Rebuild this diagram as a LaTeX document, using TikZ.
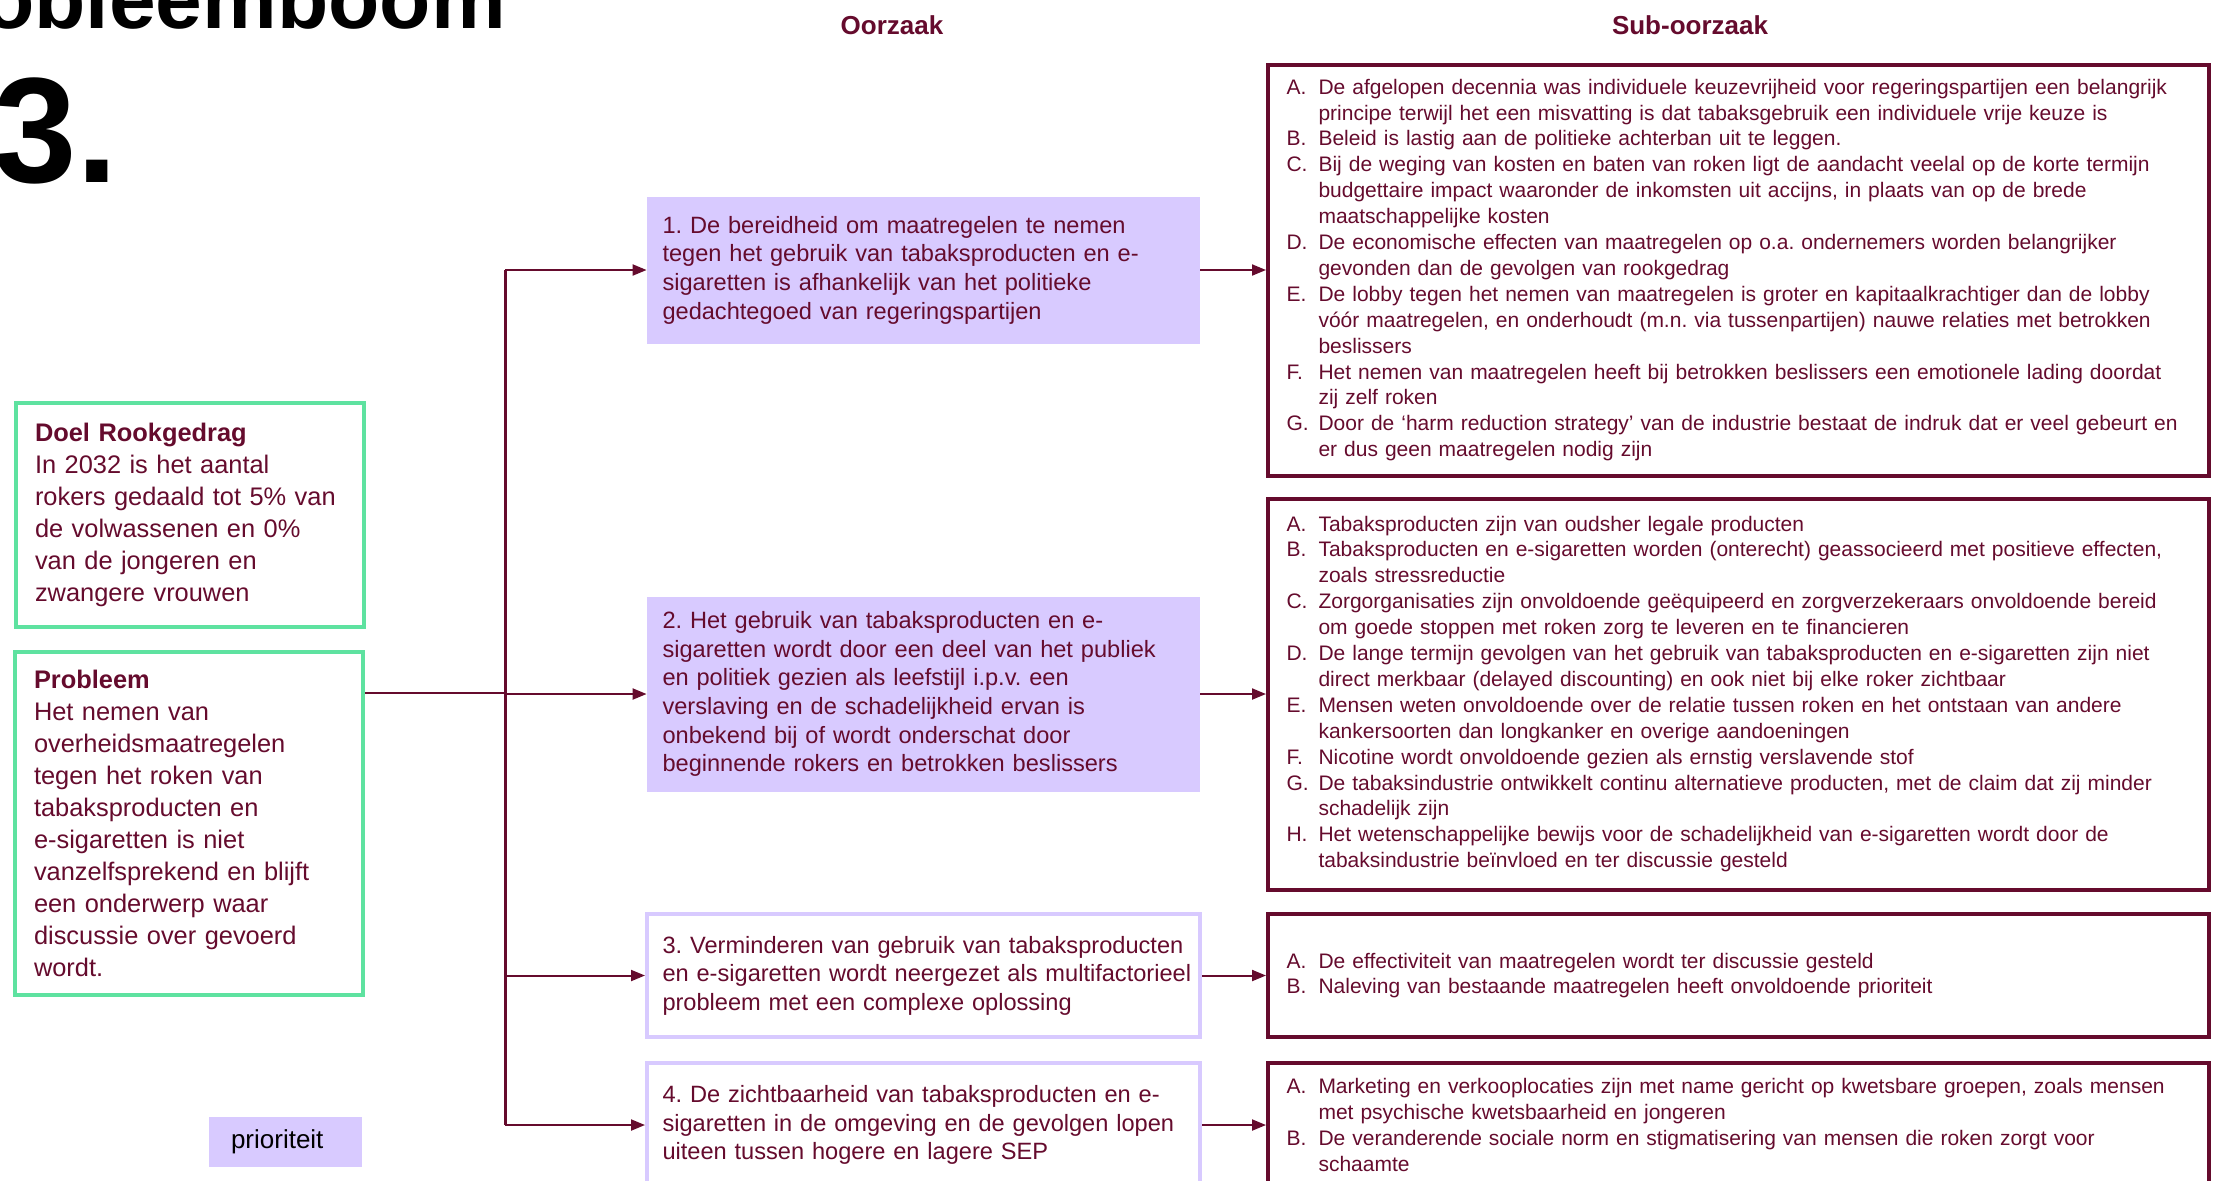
\documentclass[tikz,border=0pt]{standalone}
\usepackage{fontspec}
\setmainfont{Liberation Sans}
\usetikzlibrary{arrows.meta}

\definecolor{wine}{RGB}{101,11,45}
\definecolor{lila}{RGB}{216,202,255}
\definecolor{mint}{RGB}{94,226,160}

\frenchspacing
\newcommand{\lbl}[1]{\makebox[16pt][l]{#1}}
\newcommand{\hang}{\hspace*{16pt}}

\tikzset{
	kop/.style={anchor=base, inner sep=0pt, text=wine, font=\fontsize{13}{15}\selectfont\bfseries},
	doelbox/.style={draw=mint, line width=2pt, text=wine, minimum width=174pt, text width=155pt, inner xsep=9.5pt, align=left, font=\fontsize{12.7}{16}\selectfont},
	causebox/.style={fill=lila, text=wine, minimum width=276.5pt, text width=261pt, inner xsep=7.75pt, align=left, font=\fontsize{11.8}{14.3}\selectfont},
	causeline/.style={causebox, fill=white, draw=lila, line width=2pt},
	subbox/.style={draw=wine, line width=2pt, text=wine, minimum width=470.5pt, text width=452pt, inner xsep=9.25pt, align=left, font=\fontsize{10.5}{12.95}\selectfont},
	tak/.style={draw=wine, line width=0.8pt},
	stam/.style={draw=wine, line width=1.5pt},
	pijl/.style={draw=wine, line width=1pt, -{Triangle[length=7pt,width=5.5pt]}}
}

\begin{document}
\begin{tikzpicture}[x=0.5pt,y=-0.5pt]
	\useasboundingbox (0,0) rectangle (2219,1180);
	\clip (0,0) rectangle (2219,1180);

	\node[anchor=base west, inner sep=0pt, font=\fontsize{42}{50}\selectfont\bfseries] (titel) at (-106,28) {Probleemboom};
	\node[anchor=base west, inner sep=0pt, font=\fontsize{75}{90}\selectfont\bfseries] (nummer) at (-7,182) {3.};

	\node[kop] (kopoorzaak) at (892,34) {Oorzaak};
	\node[kop] (kopsub) at (1690,34) {Sub-oorzaak};

	\node[doelbox, minimum height=112pt] (doel) at (190,515) {\textbf{Doel Rookgedrag}\\In 2032 is het aantal\\rokers gedaald tot 5\% van\\de volwassenen en 0\%\\van de jongeren en\\zwangere vrouwen};
	\node[doelbox, minimum height=171.5pt] (probleem) at (189,823.5) {\textbf{Probleem}\\Het nemen van\\overheidsmaatregelen\\tegen het roken van\\tabaksproducten en\\e-sigaretten is niet\\vanzelfsprekend en blijft\\een onderwerp waar\\discussie over gevoerd\\wordt.};
	\node[fill=lila, minimum height=25pt, text width=54.5pt, inner xsep=11pt, align=left, font=\fontsize{13}{15}\selectfont] (prio) at (285.5,1142) {prioriteit};

	\node[causebox, minimum height=73.5pt] (c1) at (923.5,270) {1. De bereidheid om maatregelen te nemen\\tegen het gebruik van tabaksproducten en e-\\sigaretten is afhankelijk van het politieke\\gedachtegoed van regeringspartijen};
	\node[causebox, minimum height=97.5pt] (c2) at (923.5,694) {2. Het gebruik van tabaksproducten en e-\\sigaretten wordt door een deel van het publiek\\en politiek gezien als leefstijl i.p.v. een\\verslaving en de schadelijkheid ervan is\\onbekend bij of wordt onderschat door\\beginnende rokers en betrokken beslissers};
	\node[causeline, minimum height=61.5pt] (c3) at (923.5,975.5) {3. Verminderen van gebruik van tabaksproducten\\\mbox{en e-sigaretten wordt neergezet als multifactorieel}\\probleem met een complexe oplossing};
	\node[causeline, minimum height=62pt] (c4) at (923.5,1125) {4. De zichtbaarheid van tabaksproducten en e-\\sigaretten in de omgeving en de gevolgen lopen\\uiteen tussen hogere en lagere SEP};

	\node[subbox, minimum height=205.5pt] (s1) at (1738.5,270) {\lbl{A.}De afgelopen decennia was individuele keuzevrijheid voor regeringspartijen een belangrijk\\\hang principe terwijl het een misvatting is dat tabaksgebruik een individuele vrije keuze is\\\lbl{B.}Beleid is lastig aan de politieke achterban uit te leggen.\\\lbl{C.}Bij de weging van kosten en baten van roken ligt de aandacht veelal op de korte termijn\\\hang budgettaire impact waaronder de inkomsten uit accijns, in plaats van op de brede\\\hang maatschappelijke kosten\\\lbl{D.}De economische effecten van maatregelen op o.a. ondernemers worden belangrijker\\\hang gevonden dan de gevolgen van rookgedrag\\\lbl{E.}De lobby tegen het nemen van maatregelen is groter en kapitaalkrachtiger dan de lobby\\\hang vóór maatregelen, en onderhoudt (m.n. via tussenpartijen) nauwe relaties met betrokken\\\hang beslissers\\\lbl{F.}Het nemen van maatregelen heeft bij betrokken beslissers een emotionele lading doordat\\\hang zij zelf roken\\\lbl{G.}Door de ‘harm reduction strategy’ van de industrie bestaat de indruk dat er veel gebeurt en\\\hang er dus geen maatregelen nodig zijn};
	\node[subbox, minimum height=195.5pt] (s2) at (1738.5,694) {\lbl{A.}Tabaksproducten zijn van oudsher legale producten\\\lbl{B.}Tabaksproducten en e-sigaretten worden (onterecht) geassocieerd met positieve effecten,\\\hang zoals stressreductie\\\lbl{C.}Zorgorganisaties zijn onvoldoende geëquipeerd en zorgverzekeraars onvoldoende bereid\\\hang om goede stoppen met roken zorg te leveren en te financieren\\\lbl{D.}De lange termijn gevolgen van het gebruik van tabaksproducten en e-sigaretten zijn niet\\\hang direct merkbaar (delayed discounting) en ook niet bij elke roker zichtbaar\\\lbl{E.}Mensen weten onvoldoende over de relatie tussen roken en het ontstaan van andere\\\hang kankersoorten dan longkanker en overige aandoeningen\\\lbl{F.}Nicotine wordt onvoldoende gezien als ernstig verslavende stof\\\lbl{G.}De tabaksindustrie ontwikkelt continu alternatieve producten, met de claim dat zij minder\\\hang schadelijk zijn\\\lbl{H.}Het wetenschappelijke bewijs voor de schadelijkheid van e-sigaretten wordt door de\\\hang tabaksindustrie beïnvloed en ter discussie gesteld};
	\node[subbox, minimum height=61.5pt] (s3) at (1738.5,975.5) {\lbl{A.}De effectiviteit van maatregelen wordt ter discussie gesteld\\\lbl{B.}Naleving van bestaande maatregelen heeft onvoldoende prioriteit};
	\node[subbox, minimum height=62pt] (s4) at (1738.5,1125) {\lbl{A.}Marketing en verkooplocaties zijn met name gericht op kwetsbare groepen, zoals mensen\\\hang met psychische kwetsbaarheid en jongeren\\\lbl{B.}De veranderende sociale norm en stigmatisering van mensen die roken zorgt voor\\\hang schaamte};

	\coordinate (split) at (505,693);
	\draw[tak] (probleem.east |- split) -- (split);
	\draw[stam] (split |- c1.west) -- (split |- c4.west);
	\foreach \n in {1,...,4} {
		\draw[pijl] (split |- c\n.west) -- (c\n.west);
		\draw[pijl] (c\n.east) -- (s\n.west);
	}
\end{tikzpicture}
\end{document}
